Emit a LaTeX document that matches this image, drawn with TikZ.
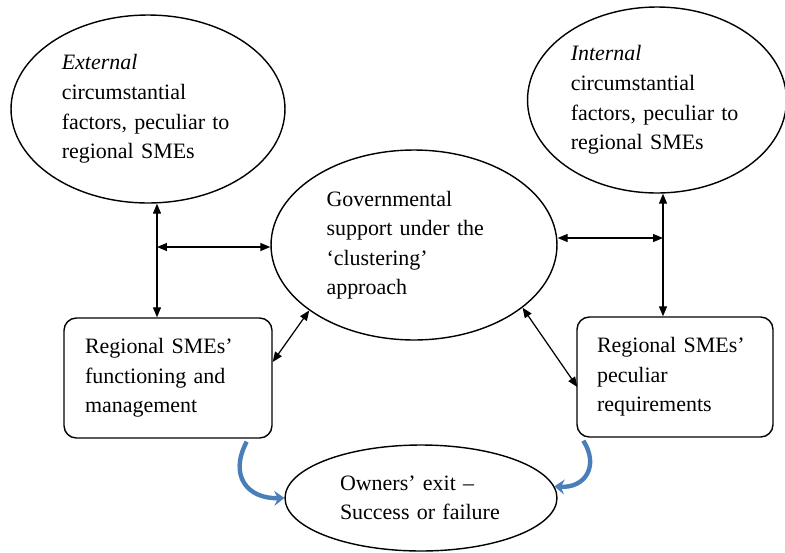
\documentclass[tikz,border=0pt]{standalone}
\usepackage{fontspec}
\setmainfont{Liberation Serif}
\usepackage{tikz}
\usetikzlibrary{shapes.geometric, arrows.meta, positioning, calc}
\definecolor{myblue}{RGB}{74,126,187}
\tikzset{
  oval/.style={ellipse, draw=black, line width=0.8pt, align=left,
    inner sep=2pt, font=\fontsize{12.5}{16.8}\selectfont},
  sbox/.style={rectangle, draw=black, rounded corners=7pt, align=left,
    line width=0.8pt, font=\fontsize{12.5}{16.8}\selectfont},
  link/.style={<->, line width=0.7pt, color=black},
  curl/.style={-{Stealth[length=2mm, width=3mm, inset=0.7mm]},
    line width=2.5pt, color=myblue}
}

\begin{document}
\begin{tikzpicture}[x=0.02cm, y=-0.02cm,
  >={Triangle[length=2mm, width=1.6mm]}]
  \useasboundingbox (0,0) rectangle (785,552);

  % Circumstantial factors
  \node[oval, text width=3.45cm, minimum width=5.48cm, minimum height=3.76cm]
    (ext) at (148,109) {\textit{External}\\circumstantial\\factors, peculiar to\\regional SMEs};
  \node[oval, text width=3.45cm, minimum width=5.18cm, minimum height=3.72cm]
    (int) at (657,100) {\textit{Internal}\\circumstantial\\factors, peculiar to\\regional SMEs};

  % Government support
  \node[oval, text width=3.5cm, minimum width=5.72cm, minimum height=3.8cm]
    (gov) at (414,245) {Governmental\\support under the\\`clustering'\\approach};

  % SME boxes
  \node[sbox, text width=3.32cm, minimum width=4.16cm, minimum height=2.4cm]
    (left) at (168,378) {Regional SMEs'\\functioning and\\management};
  \node[sbox, text width=3.12cm, minimum width=3.92cm, minimum height=2.4cm]
    (right) at (675,377) {Regional SMEs'\\peculiar\\requirements};

  % Exit
  \node[oval, text width=3.24cm, minimum width=5.44cm, minimum height=2.12cm]
    (exit) at (421,498) {Owners' exit --\\Success or failure};

  % Junctions
  \coordinate (lj) at (157,247);
  \coordinate (rj) at (663,238);

  \draw[link] (lj |- ext.south) -- (lj |- left.north);
  \draw[link] (lj) -- (lj -| gov.west);
  \draw[link] (rj |- int.south) -- (rj |- right.north);
  \draw[link] (gov.east |- rj) -- (rj);

  \draw[link] (gov.212) -- ($(left.east)+(0,-16)$);
  \draw[link] (gov.330) -- ($(right.west)+(1,10)$);

  % Curved arrows to exit
  \draw[curl] ($(left.south east)+(-26,3)$) .. controls +(-18,34) and +(-37,1) .. (exit.west);
  \draw[curl] ($(right.south west)+(7,3)$) .. controls +(16,25) and +(31,2) .. (exit.5);
\end{tikzpicture}
\end{document}
